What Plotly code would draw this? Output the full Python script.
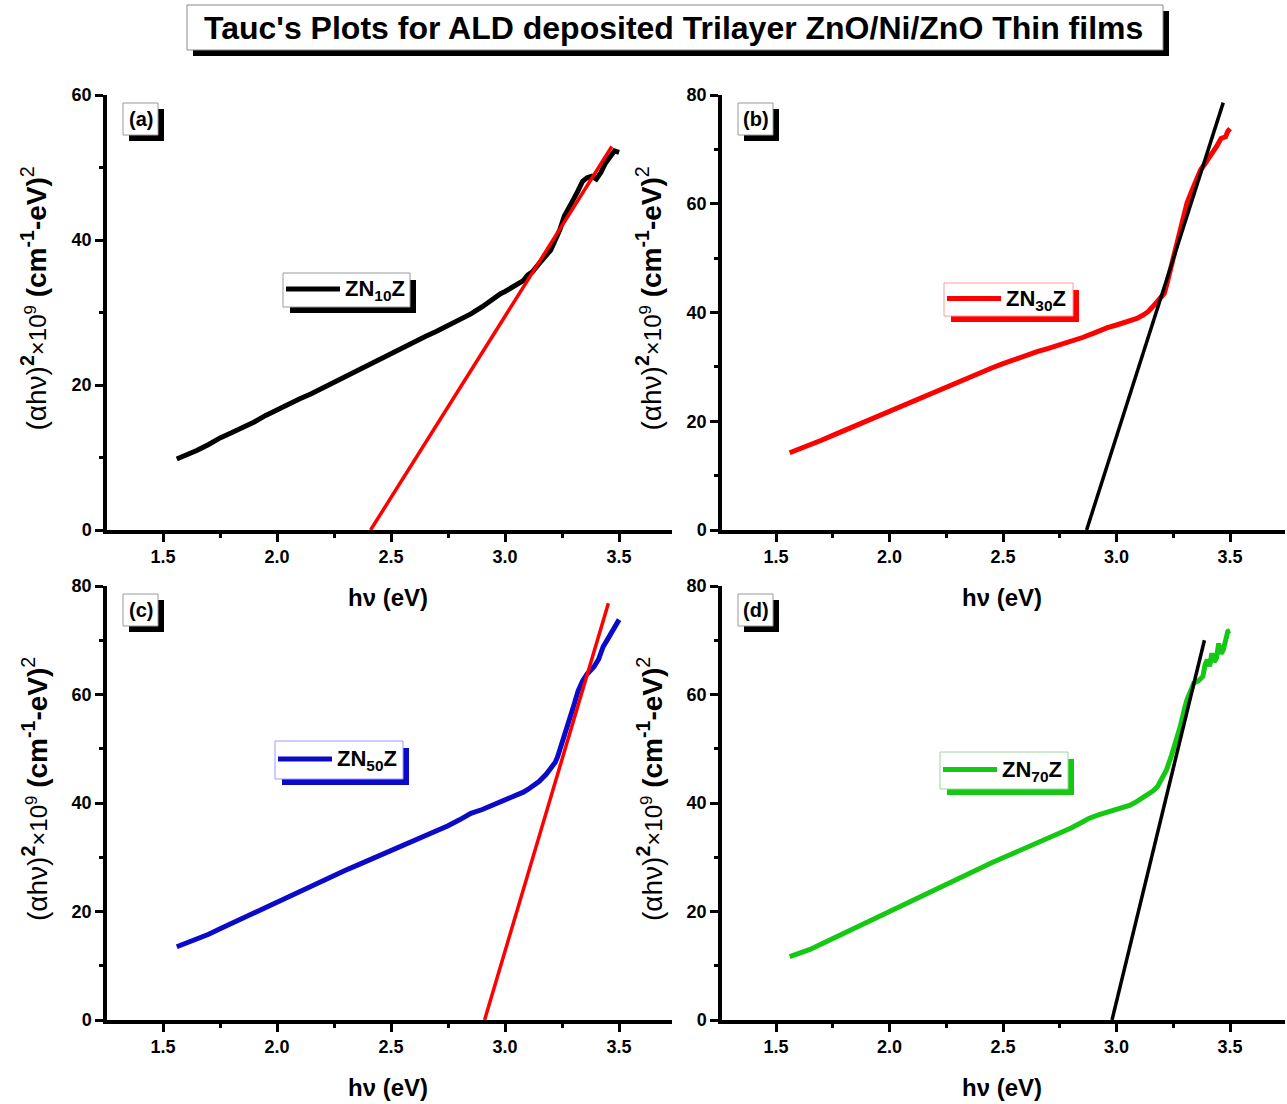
import plotly.graph_objects as go

# ---------------- data: photon energy (eV) and (alpha h nu)^2 x 1e9 ----------------
e_zn10 = [1.56, 1.60, 1.65, 1.70, 1.75, 1.80, 1.85, 1.90, 1.95, 2.00, 2.05, 2.10, 2.15, 2.20,
          2.25, 2.30, 2.35, 2.40, 2.45, 2.50, 2.55, 2.60, 2.65, 2.70, 2.75, 2.80, 2.85, 2.90,
          2.93, 2.96, 2.98, 3.00, 3.02, 3.04, 3.06, 3.08, 3.10, 3.12, 3.14, 3.16, 3.18, 3.20,
          3.22, 3.24, 3.26, 3.28, 3.30, 3.32, 3.34, 3.36, 3.38, 3.40, 3.42, 3.44, 3.46, 3.48, 3.50]
a_zn10 = [9.8, 10.3, 11.0, 11.8, 12.7, 13.4, 14.1, 14.9, 15.8, 16.6, 17.3, 18.1, 18.8, 19.6,
          20.4, 21.2, 22.0, 22.8, 23.6, 24.4, 25.2, 25.9, 26.7, 27.4, 28.2, 28.9, 29.8, 30.8,
          31.5, 32.0, 32.6, 32.9, 33.3, 33.6, 34.0, 34.4, 35.2, 35.6, 36.4, 37.2, 37.9, 38.6,
          40.0, 41.4, 43.3, 44.6, 45.6, 46.8, 48.1, 48.6, 48.8, 48.4, 49.3, 50.6, 51.4, 52.3, 52.1]

e_zn30 = [1.56, 1.60, 1.65, 1.70, 1.75, 1.80, 1.85, 1.90, 1.95, 2.00, 2.05, 2.10, 2.15, 2.20,
          2.25, 2.30, 2.35, 2.40, 2.45, 2.50, 2.55, 2.60, 2.65, 2.70, 2.75, 2.80, 2.85, 2.90,
          2.93, 2.96, 3.00, 3.03, 3.06, 3.09, 3.12, 3.14, 3.16, 3.18, 3.20, 3.21, 3.22, 3.24,
          3.26, 3.27, 3.28, 3.29, 3.30, 3.31, 3.33, 3.34, 3.36, 3.37, 3.39, 3.40, 3.42, 3.44,
          3.46, 3.48, 3.49, 3.50]
a_zn30 = [14.2, 14.8, 15.6, 16.5, 17.4, 18.3, 19.2, 20.1, 21.0, 21.9, 22.8, 23.7, 24.6, 25.5,
          26.4, 27.3, 28.1, 29.0, 29.8, 30.6, 31.4, 32.1, 32.8, 33.4, 34.0, 34.7, 35.4, 36.2,
          36.8, 37.2, 37.7, 38.1, 38.5, 38.9, 39.6, 40.2, 41.1, 42.0, 43.0, 43.5, 45.0, 48.4,
          51.5, 53.3, 55.5, 57.0, 58.6, 60.1, 62.2, 63.1, 65.2, 66.2, 67.4, 68.0, 69.4, 70.5,
          72.0, 72.3, 73.3, 73.8]

e_zn50 = [1.56, 1.60, 1.65, 1.70, 1.75, 1.80, 1.85, 1.90, 1.95, 2.00, 2.05, 2.10, 2.15, 2.20,
          2.25, 2.30, 2.35, 2.40, 2.45, 2.50, 2.55, 2.60, 2.65, 2.70, 2.75, 2.80, 2.85, 2.90,
          2.93, 2.97, 3.00, 3.04, 3.08, 3.10, 3.12, 3.15, 3.18, 3.20, 3.22, 3.23, 3.25, 3.27,
          3.29, 3.30, 3.32, 3.34, 3.36, 3.39, 3.41, 3.43, 3.45, 3.47, 3.49, 3.50]
a_zn50 = [13.5, 14.1, 14.9, 15.8, 16.8, 17.8, 18.7, 19.7, 20.7, 21.7, 22.7, 23.7, 24.7, 25.7,
          26.7, 27.6, 28.5, 29.4, 30.3, 31.2, 32.1, 33.0, 33.9, 34.8, 35.8, 36.9, 38.1, 38.8,
          39.3, 40.0, 40.5, 41.2, 42.0, 42.5, 43.0, 44.0, 45.3, 46.3, 47.5, 48.5, 51.0, 53.5,
          56.3, 57.8, 60.6, 62.5, 63.8, 65.1, 66.5, 68.8, 70.2, 71.6, 73.4, 73.8]

e_zn70 = [1.56, 1.60, 1.65, 1.70, 1.75, 1.80, 1.85, 1.90, 1.95, 2.00, 2.05, 2.10, 2.15, 2.20,
          2.25, 2.30, 2.35, 2.40, 2.45, 2.50, 2.55, 2.60, 2.65, 2.70, 2.75, 2.80, 2.85, 2.88,
          2.92, 2.97, 3.00, 3.03, 3.06, 3.09, 3.11, 3.13, 3.16, 3.18, 3.20, 3.22, 3.24, 3.25,
          3.27, 3.28, 3.30, 3.31, 3.33, 3.34, 3.36, 3.38, 3.39, 3.40, 3.41, 3.42, 3.43, 3.44,
          3.45, 3.46, 3.47, 3.48, 3.49, 3.50]
a_zn70 = [11.7, 12.2, 13.0, 14.0, 15.0, 16.0, 17.0, 18.1, 19.2, 20.2, 21.2, 22.2, 23.2, 24.2,
          25.2, 26.2, 27.1, 28.1, 29.0, 29.9, 30.8, 31.7, 32.6, 33.5, 34.4, 35.4, 36.5, 37.2,
          37.8, 38.4, 38.8, 39.1, 39.6, 40.3, 40.8, 41.2, 42.2, 43.0, 44.4, 46.1, 48.5, 49.8,
          52.5, 54.0, 57.5, 59.0, 61.0, 62.1, 62.5, 63.3, 65.5, 66.4, 65.2, 67.6, 66.0, 66.7,
          69.4, 67.5, 68.2, 69.8, 71.6, 71.8]

# linear extrapolations of the absorption edge (end points)
fit_zn10_e, fit_zn10_a = [2.41, 3.468], [0.0, 52.9]
fit_zn30_e, fit_zn30_a = [2.868, 3.47], [0.0, 78.6]
fit_zn50_e, fit_zn50_a = [2.91, 3.453], [0.0, 76.8]
fit_zn70_e, fit_zn70_a = [2.98, 3.387], [0.0, 70.0]

sample_names = ["ZN<sub>10</sub>Z", "ZN<sub>30</sub>Z", "ZN<sub>50</sub>Z", "ZN<sub>70</sub>Z"]
panel_tags = ["(a)", "(b)", "(c)", "(d)"]
y_ranges = [[0, 60], [0, 80], [0, 80], [0, 80]]
y_ticks = [[0, 20, 40, 60], [0, 20, 40, 60, 80], [0, 20, 40, 60, 80], [0, 20, 40, 60, 80]]
x_ticks = [1.5, 2.0, 2.5, 3.0, 3.5]

# ---------------- page geometry helpers (pixels -> paper) ----------------
W, H = 1287, 1104


def px(x):
    return x / W


def py(y):
    return 1 - y / H


curve_colors = ["#000000", "#ff0000", "#0a0ac8", "#14c814"]
fit_colors = ["#ff0000", "#000000", "#ff0000", "#000000"]
frame_colors = ["#9a9a9a", "#ff9a9a", "#9a9aff", "#9ad89a"]

# plot frames in pixels: left, right, top, bottom
frames = [(107, 672, 95, 530), (722, 1285, 95, 530),
          (107, 672, 586, 1020), (722, 1285, 586, 1020)]
x_ranges = [[1.254, 3.732], [1.262, 3.742], [1.254, 3.732], [1.262, 3.742]]

series = [(e_zn10, a_zn10, fit_zn10_e, fit_zn10_a),
          (e_zn30, a_zn30, fit_zn30_e, fit_zn30_a),
          (e_zn50, a_zn50, fit_zn50_e, fit_zn50_a),
          (e_zn70, a_zn70, fit_zn70_e, fit_zn70_a)]

fig = go.Figure()
layout = dict(
    width=W, height=H, margin=dict(l=0, r=0, t=0, b=0, pad=0, autoexpand=False),
    paper_bgcolor="white", plot_bgcolor="white", showlegend=False,
    font=dict(family="Arial", color="black"),
)
shapes = []
annotations = []

tick_font = dict(family="Arial", size=18, color="black", weight="bold")

ytitle = ("(αhν)<b><sup>2</sup></b><span style='font-size:24px'>×10<sup>9</sup></span> "
          "<b>(cm<sup>-1</sup>-eV)</b><sup>2</sup>")

for i in range(4):
    n = "" if i == 0 else str(i + 1)
    xa, ya = "x" + n, "y" + n
    l, r, t, b = frames[i]
    e, a, fe, fa = series[i]
    fig.add_trace(go.Scatter(x=e, y=a, mode="lines", xaxis=xa, yaxis=ya,
                             line=dict(color=curve_colors[i], width=5), name=sample_names[i]))
    fig.add_trace(go.Scatter(x=fe, y=fa, mode="lines", xaxis=xa, yaxis=ya,
                             line=dict(color=fit_colors[i], width=3.5), name="fit"))
    layout["xaxis" + n] = dict(
        domain=[px(l), px(r)], anchor=ya, range=x_ranges[i], automargin=False,
        showline=True, linecolor="black", linewidth=3.5, mirror=False,
        showgrid=False, zeroline=False, ticks="outside", ticklen=8, tickwidth=3,
        tickcolor="black", tickvals=x_ticks, ticktext=[f"{v:.1f}" for v in x_ticks],
        tickfont=tick_font,
        minor=dict(ticks="outside", ticklen=4, tickwidth=3, tickcolor="black",
                   tickvals=[1.75, 2.25, 2.75, 3.25]),
    )
    ymaj = y_ticks[i]
    ymin = [v + 10 for v in ymaj[:-1]]
    layout["yaxis" + n] = dict(
        domain=[py(b), py(t)], anchor=xa, range=y_ranges[i], automargin=False,
        showline=True, linecolor="black", linewidth=3.5, mirror=False,
        showgrid=False, zeroline=False, ticks="outside", ticklen=8, tickwidth=3,
        tickcolor="black", tickvals=ymaj, tickfont=tick_font,
        minor=dict(ticks="outside", ticklen=4, tickwidth=3, tickcolor="black",
                   tickvals=ymin),
    )

    # axis titles
    cx = (l + r) / 2
    annotations.append(dict(
        x=px(cx - 2), y=py(b + 67), xref="paper", yref="paper", showarrow=False,
        text="<b>hν (eV)</b>", font=dict(family="Arial", size=24, color="black"),
        xanchor="center", yanchor="middle"))
    annotations.append(dict(
        x=px(l - 72), y=py((t + b) / 2 - 14), xref="paper", yref="paper", showarrow=False,
        textangle=-90, text=ytitle, font=dict(family="Arial", size=28, color="black"),
        xanchor="center", yanchor="middle"))

    # panel tag box with drop shadow
    tl = l + 16
    tt = t + 8
    shapes.append(dict(type="rect", xref="paper", yref="paper",
                       x0=px(tl + 6), x1=px(tl + 41), y0=py(tt + 38), y1=py(tt + 6),
                       fillcolor="black", line=dict(width=0)))
    shapes.append(dict(type="rect", xref="paper", yref="paper",
                       x0=px(tl), x1=px(tl + 35), y0=py(tt + 32), y1=py(tt),
                       fillcolor="white", line=dict(color="#9a9a9a", width=1)))
    annotations.append(dict(
        x=px(tl + 17.5), y=py(tt + 16), xref="paper", yref="paper", showarrow=False,
        text="<b>" + panel_tags[i] + "</b>", font=dict(family="Arial", size=20, color="black"),
        xanchor="center", yanchor="middle"))

# legend boxes (left, top, right, bottom in pixels) with coloured drop shadows
legend_boxes = [(283, 273, 410, 307), (944, 283, 1073, 316),
                (275, 741, 403, 779), (940, 752, 1068, 789)]
for i, (bl, bt, br, bb) in enumerate(legend_boxes):
    shapes.append(dict(type="rect", xref="paper", yref="paper",
                       x0=px(bl + 7), x1=px(br + 6), y0=py(bb + 6), y1=py(bt + 7),
                       fillcolor=curve_colors[i], line=dict(width=0)))
    shapes.append(dict(type="rect", xref="paper", yref="paper",
                       x0=px(bl), x1=px(br), y0=py(bb), y1=py(bt),
                       fillcolor="white", line=dict(color=frame_colors[i], width=1)))
    ym = (bt + bb) / 2
    shapes.append(dict(type="line", xref="paper", yref="paper",
                       x0=px(bl + 3), x1=px(bl + 57), y0=py(ym - 1), y1=py(ym - 1),
                       line=dict(color=curve_colors[i], width=5)))
    annotations.append(dict(
        x=px(bl + 60), y=py(ym), xref="paper", yref="paper", showarrow=False,
        text="<b>" + sample_names[i] + "</b>", font=dict(family="Arial", size=22, color="black"),
        xanchor="left", yanchor="middle"))

# figure title box with drop shadow
shapes.append(dict(type="rect", xref="paper", yref="paper",
                   x0=px(193), x1=px(1169), y0=py(56), y1=py(11),
                   fillcolor="black", line=dict(width=0)))
shapes.append(dict(type="rect", xref="paper", yref="paper",
                   x0=px(187), x1=px(1163), y0=py(50), y1=py(5),
                   fillcolor="white", line=dict(color="#8a8a8a", width=1)))
annotations.append(dict(
    x=px(673), y=py(28), xref="paper", yref="paper", showarrow=False,
    text="<b>Tauc's Plots for ALD deposited Trilayer ZnO/Ni/ZnO Thin films</b>",
    font=dict(family="Arial", size=32, color="black"),
    xanchor="center", yanchor="middle"))

layout["shapes"] = shapes
layout["annotations"] = annotations
fig.update_layout(**layout)
fig.write_html("out.html")
